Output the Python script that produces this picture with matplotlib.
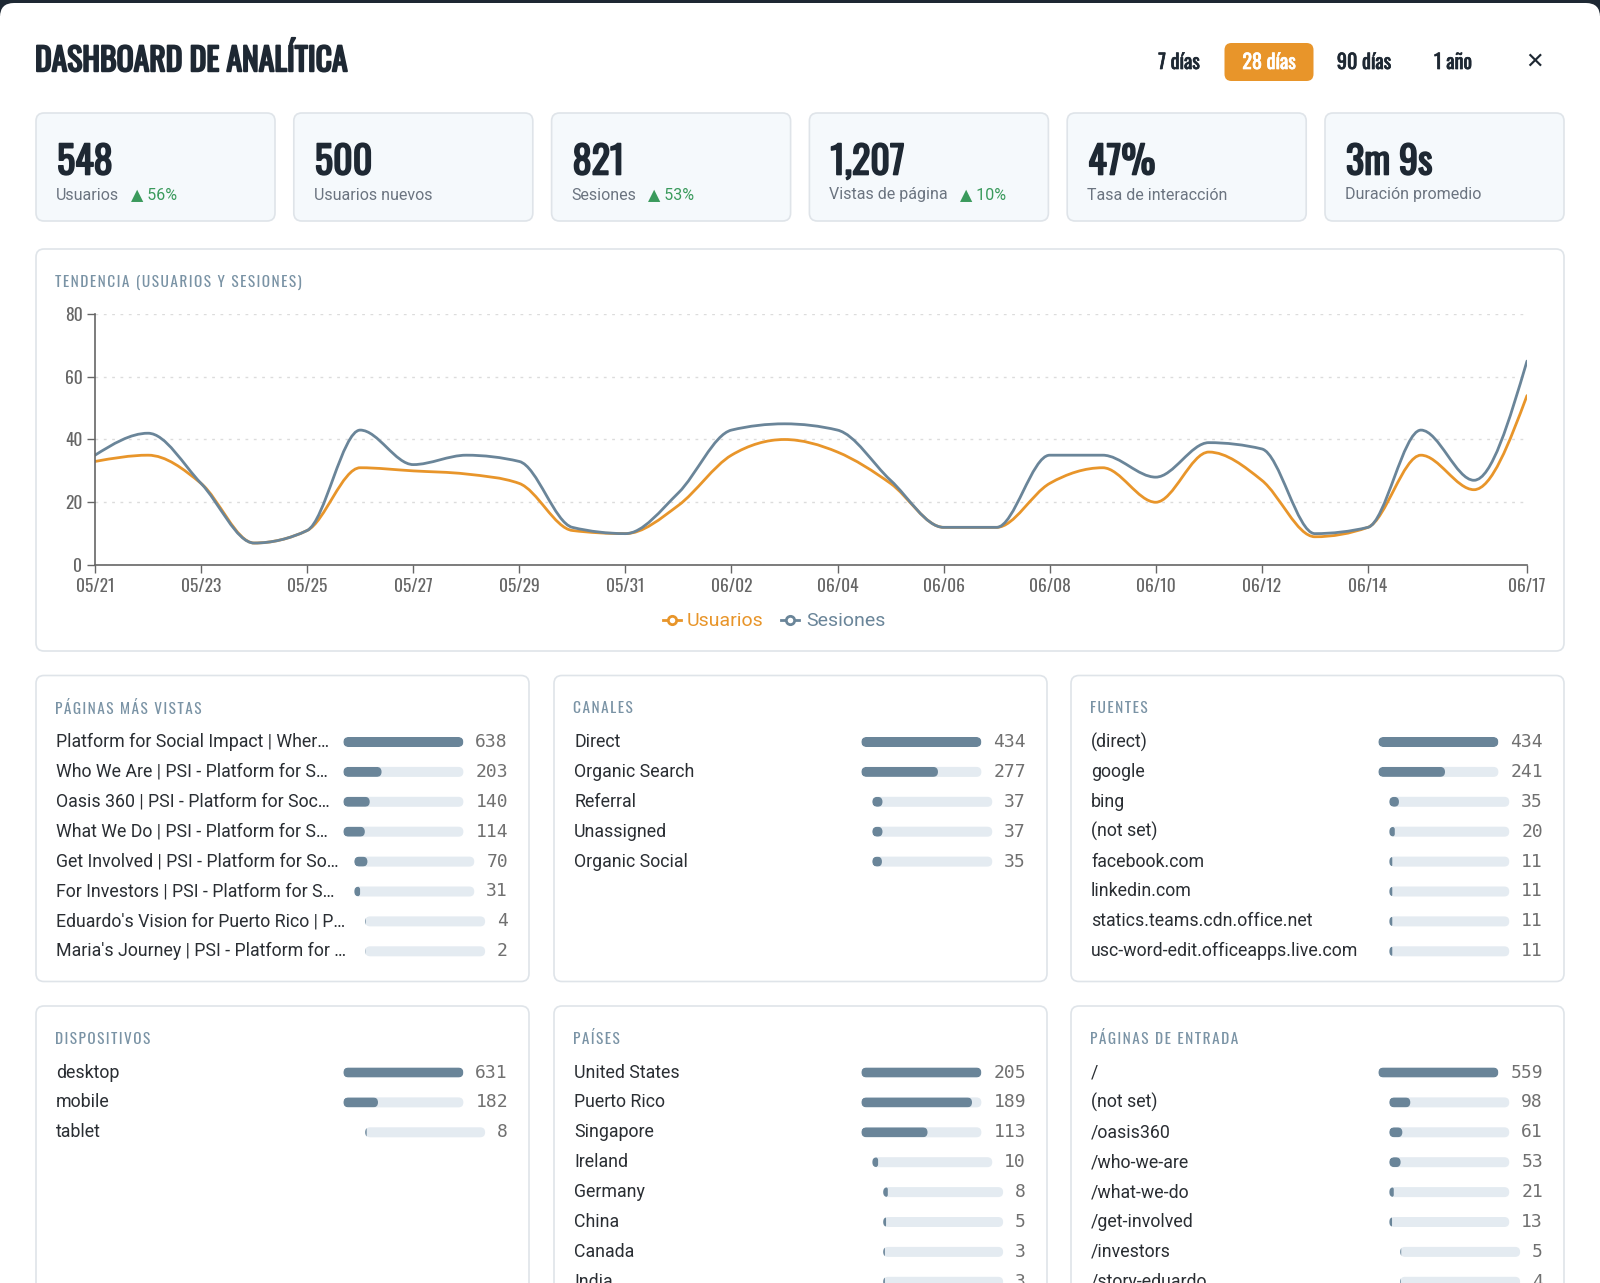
import numpy as np
import matplotlib
matplotlib.use('Agg')
import matplotlib.pyplot as plt
from matplotlib.patches import FancyBboxPatch, Rectangle, PathPatch
from matplotlib.path import Path
from matplotlib.lines import Line2D
from matplotlib import font_manager
from matplotlib import patheffects as pe

# ---- data ----
dates = ['05/21', '05/22', '05/23', '05/24', '05/25', '05/26', '05/27', '05/28', '05/29', '05/30',
         '05/31', '06/01', '06/02', '06/03', '06/04', '06/05', '06/06', '06/07', '06/08', '06/09',
         '06/10', '06/11', '06/12', '06/13', '06/14', '06/15', '06/16', '06/17']
usuarios = [33, 35, 26, 7, 11, 31, 30, 29, 26, 11, 10, 19, 35, 40, 36, 26, 12, 12, 26, 31,
            20, 36, 27, 9, 12, 35, 24, 54]
sesiones = [35, 42, 26, 7, 11, 43, 32, 35, 33, 12, 10, 23, 43, 45, 43, 27, 12, 12, 35, 35,
            28, 39, 37, 10, 12, 43, 27, 65]

periodos = ['7 días', '28 días', '90 días', '1 año']
periodo_activo = '28 días'

kpi_values = ['548', '500', '821', '1,207', '47%', '3m 9s']
kpi_labels = ['Usuarios', 'Usuarios nuevos', 'Sesiones', 'Vistas de página',
              'Tasa de interacción', 'Duración promedio']
kpi_deltas = ['56%', None, '53%', '10%', None, None]

paginas_labels = ['Platform for Social Impact | Wher…', 'Who We Are | PSI - Platform for S…',
                  'Oasis 360 | PSI - Platform for Soc…', 'What We Do | PSI - Platform for S…',
                  'Get Involved | PSI - Platform for So…', 'For Investors | PSI - Platform for S…',
                  "Eduardo's Vision for Puerto Rico | P…", "Maria's Journey | PSI - Platform for …"]
paginas_values = [638, 203, 140, 114, 70, 31, 4, 2]
canales_labels = ['Direct', 'Organic Search', 'Referral', 'Unassigned', 'Organic Social']
canales_values = [434, 277, 37, 37, 35]
fuentes_labels = ['(direct)', 'google', 'bing', '(not set)', 'facebook.com', 'linkedin.com',
                  'statics.teams.cdn.office.net', 'usc-word-edit.officeapps.live.com']
fuentes_values = [434, 241, 35, 20, 11, 11, 11, 11]
dispositivos_labels = ['desktop', 'mobile', 'tablet']
dispositivos_values = [631, 182, 8]
paises_labels = ['United States', 'Puerto Rico', 'Singapore', 'Ireland', 'Germany', 'China',
                 'Canada', 'India']
paises_values = [205, 189, 113, 10, 8, 5, 3, 3]
entrada_labels = ['/', '(not set)', '/oasis360', '/who-we-are', '/what-we-do', '/get-involved',
                  '/investors', '/story-eduardo']
entrada_values = [559, 98, 61, 53, 21, 13, 5, 4]

# ---- style ----
ORANGE = '#e8952a'
SLATE = '#6a8599'
TRACK = '#e4ebf1'
BORDER = '#dfe4e9'
CARD_FC = '#f5f9fc'
TITLE_C = '#7a93a5'
TEXT = '#2a2e33'
NUM_C = '#707070'
DARK = '#1e2833'
GREEN = '#3a9a5c'

names = {f.name for f in font_manager.fontManager.ttflist}
def pick(*cands):
    for c in cands:
        if c in names:
            return c
    return 'DejaVu Sans'
COND = pick('Oswald', 'Roboto Condensed', 'Liberation Sans Narrow', 'DejaVu Sans')
CS = 1.0 if COND != 'DejaVu Sans' else 0.8
SANS = pick('Roboto', 'Noto Sans', 'DejaVu Sans')
MONO = pick('DejaVu Sans Mono', 'Liberation Mono')
HS = '\u200a'


def spaced(s):
    return HS.join(s)


def heavy(col, w=1.3):
    return [pe.withStroke(linewidth=w, foreground=col)]


W, H = 1600, 1283
fig = plt.figure(figsize=(W / 100, H / 100), dpi=100)
fig.patch.set_facecolor('white')
bg = fig.add_axes([0, 0, 1, 1])
bg.set_xlim(0, W)
bg.set_ylim(H, 0)
bg.axis('off')
renderer = fig.canvas.get_renderer()


def rbox(x, y, w, h, r, **kw):
    p = FancyBboxPatch((x, y), w, h, boxstyle='round,pad=0,rounding_size=%g' % r, **kw)
    bg.add_patch(p)
    return p


# top dark strip with rounded modal
bg.add_patch(Rectangle((0, 0), W, 16, fc=DARK, ec='none'))
rbox(0, 3, W, H + 40, 14, fc='white', ec='none')

# header
bg.text(35, 60, 'DASHBOARD DE ANALÍTICA', fontsize=22.8 * CS, fontweight='bold',
        family=[COND, 'DejaVu Sans'], color=DARK, va='center', ha='left',
        path_effects=heavy(DARK, 1.4))
btn_x = [1179, 1269, 1364, 1453]
for px, lab in zip(btn_x, periodos):
    col = 'white' if lab == periodo_activo else DARK
    if lab == periodo_activo:
        rbox(px - 44.5, 43, 89, 38, 7, fc=ORANGE, ec='none')
    bg.text(px, 62, lab, fontsize=14.5 * CS, fontweight='bold', family=COND, color=col,
            ha='center', va='center', path_effects=heavy(col, 0.5))
bg.text(1535, 62, '✕', fontsize=16, family='DejaVu Sans', color=DARK, ha='center', va='center')

# KPI cards
card_w, card_gap = 239, 18.8
for i, (v, lab, d) in enumerate(zip(kpi_values, kpi_labels, kpi_deltas)):
    x0 = 36 + i * (card_w + card_gap)
    rbox(x0, 113, card_w, 108, 8, fc=CARD_FC, ec=BORDER, lw=1.2)
    bg.text(x0 + 21, 162, v, fontsize=27.5 * CS, fontweight='bold', family=COND, color=DARK,
            ha='left', va='center', path_effects=heavy(DARK, 1.2))
    t = bg.text(x0 + 20, 195, lab, fontsize=11.5, family=SANS, color='#6b7480', ha='left',
                va='center')
    if d:
        bb = t.get_window_extent(renderer)
        bg.text(bb.x1 + 12, 195, '▲ ' + d, fontsize=11.5, family=[SANS, 'DejaVu Sans'],
                color=GREEN, ha='left', va='center')

# trend panel
rbox(36, 249, 1528, 402, 8, fc='white', ec=BORDER, lw=1.2)
bg.text(55, 282, spaced('TENDENCIA (USUARIOS Y SESIONES)'), fontsize=11 * CS,
        family=[COND, 'DejaVu Sans'], color=TITLE_C, ha='left', va='center')


def monotone_path(x, y):
    x = np.asarray(x, float)
    y = np.asarray(y, float)
    h = np.diff(x)
    s = np.diff(y) / h
    n = len(x)
    t = np.zeros(n)
    for i in range(1, n - 1):
        h0, h1, s0, s1 = h[i - 1], h[i], s[i - 1], s[i]
        p = (s0 * h1 + s1 * h0) / (h0 + h1)
        t[i] = (np.sign(s0) + np.sign(s1)) * min(abs(s0), abs(s1), 0.5 * abs(p))
    t[0] = (3 * s[0] - t[1]) / 2
    t[-1] = (3 * s[-1] - t[-2]) / 2
    verts = [(x[0], y[0])]
    codes = [Path.MOVETO]
    for i in range(n - 1):
        dx = h[i] / 3
        verts += [(x[i] + dx, y[i] + dx * t[i]), (x[i + 1] - dx, y[i + 1] - dx * t[i + 1]),
                  (x[i + 1], y[i + 1])]
        codes += [Path.CURVE4] * 3
    return Path(verts, codes)


ax = fig.add_axes([95 / W, 1 - 565 / H, (1527 - 95) / W, (565 - 314) / H])
ax.patch.set_alpha(0)
xs = np.arange(len(dates))
ax.add_patch(PathPatch(monotone_path(xs, usuarios), fill=False, ec=ORANGE, lw=2.0,
                       capstyle='round', joinstyle='round'))
ax.add_patch(PathPatch(monotone_path(xs, sesiones), fill=False, ec=SLATE, lw=2.0,
                       capstyle='round', joinstyle='round'))
ax.set_xlim(0, len(dates) - 1)
ax.set_ylim(0, 80)
tick_idx = list(range(0, 25, 2)) + [len(dates) - 1]
ax.set_xticks(tick_idx)
ax.set_xticklabels([dates[i] for i in tick_idx], fontsize=12.5 * CS, family=COND, color='#666666')
ax.set_yticks([0, 20, 40, 60, 80])
ax.set_yticklabels(['0', '20', '40', '60', '80'], fontsize=12.5 * CS, family=COND, color='#666666')
ax.tick_params(length=6, width=1, color='#666666', pad=3)
for sp in ['top', 'right']:
    ax.spines[sp].set_visible(False)
for sp in ['left', 'bottom']:
    ax.spines[sp].set_color('#666666')
    ax.spines[sp].set_linewidth(1.2)
ax.yaxis.grid(True, linestyle=(0, (2, 4)), color='#dcdcdc', lw=1)
ax.set_axisbelow(True)

# legend
for mx, tx, lab, col in [(672, 687, 'Usuarios', ORANGE), (790, 806, 'Sesiones', SLATE)]:
    bg.add_line(Line2D([mx - 9, mx + 9], [620, 620], color=col, lw=2))
    bg.plot([mx], [620], marker='o', ms=6, mfc='white', mec=col, mew=2)
    bg.text(tx, 621, lab, fontsize=14, family=SANS, color=col, ha='left', va='center')


# list panels
def panel(x0, y0, title, labels, values, h=306):
    w = 493
    rbox(x0, y0, w, h, 8, fc='white', ec=BORDER, lw=1.2)
    bg.text(x0 + 19, y0 + 33, spaced(title), fontsize=11 * CS, family=[COND, 'DejaVu Sans'],
            color=TITLE_C, ha='left', va='center')
    vmax = max(values)
    right = x0 + w - 21
    for i, (lab, v) in enumerate(zip(labels, values)):
        yc = y0 + 66.5 + i * 29.9
        bg.text(x0 + 20, yc, lab, fontsize=12.8, family=SANS, color=TEXT, ha='left', va='center')
        t = bg.text(right, yc, str(v), fontsize=13, family=MONO, color=NUM_C, ha='right',
                    va='center')
        bb = t.get_window_extent(renderer)
        tr = bb.x0 - 12
        tw, th = 120, 10
        track = rbox(tr - tw, yc - th / 2, tw, th, th / 2, fc=TRACK, ec='none')
        fw = tw * v / vmax
        fill = rbox(tr - tw, yc - th / 2, fw, th, min(th / 2, fw / 2), fc=SLATE, ec='none')
        fill.set_clip_path(track)


col_x = [36, 554, 1071]
panel(col_x[0], 675.5, 'PÁGINAS MÁS VISTAS', paginas_labels, paginas_values)
panel(col_x[1], 675.5, 'CANALES', canales_labels, canales_values)
panel(col_x[2], 675.5, 'FUENTES', fuentes_labels, fuentes_values)
panel(col_x[0], 1006, 'DISPOSITIVOS', dispositivos_labels, dispositivos_values, h=330)
panel(col_x[1], 1006, 'PAÍSES', paises_labels, paises_values, h=330)
panel(col_x[2], 1006, 'PÁGINAS DE ENTRADA', entrada_labels, entrada_values, h=330)

fig.savefig('out.png', dpi=100, facecolor='white')
